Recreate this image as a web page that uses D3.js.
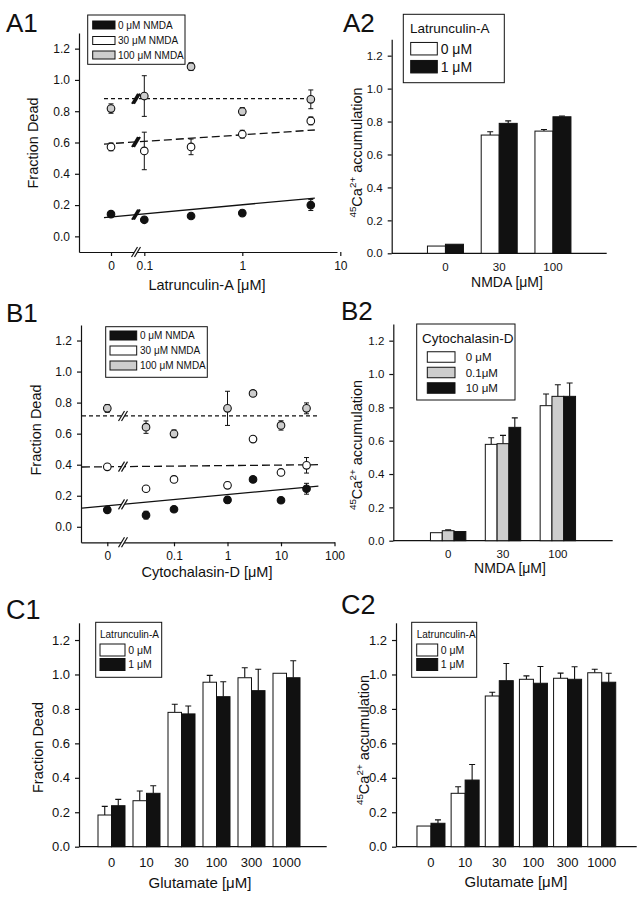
<!DOCTYPE html>
<html>
<head>
<meta charset="utf-8">
<script src="https://cdn.jsdelivr.net/npm/d3@7"></script>
<style>
  body { margin: 0; background: #fff; }
  svg { font-family: "Liberation Sans", Arial, sans-serif; }
</style>
</head>
<body>
<svg id="fig" width="643" height="899"></svg>
<script>
// ---- data ----
const yTicks = [0, 0.2, 0.4, 0.6, 0.8, 1.0, 1.2];
const nmdaNames = ["0 \u03bcM NMDA", "30 \u03bcM NMDA", "100 \u03bcM NMDA"];

// A1: fraction dead vs latrunculin-A
const latConc = [0, 0.1, 0.3, 1, 5];
const latDead0 = [0.142, 0.106, 0.13, 0.149, 0.20];
const latErr0 = [0.01, 0.01, 0.01, 0.01, 0.035];
const latDead30 = [0.572, 0.546, 0.572, 0.653, 0.738];
const latErr30 = [0.025, 0.12, 0.05, 0.025, 0.025];
const latDead100 = [0.817, 0.897, 1.085, 0.798, 0.876];
const latErr100 = [0.03, 0.13, 0.025, 0.025, 0.06];
const latFit0 = [0.12, 0.245];
const latFit30 = [0.59, 0.68];
const latFit100 = [0.88, 0.88];
const latTicks = [0, 0.1, 1, 10];

// B1: fraction dead vs cytochalasin-D
const cytConc = [0, 0.03, 0.1, 1, 3, 10, 30];
const cytDead0 = [0.109, 0.075, 0.113, 0.173, 0.305, 0.171, 0.245];
const cytErr0 = [0.01, 0.025, 0.01, 0.02, 0.01, 0.01, 0.035];
const cytDead30 = [0.386, 0.245, 0.305, 0.267, 0.565, 0.35, 0.396];
const cytErr30 = [0.01, 0.01, 0.02, 0.02, 0.01, 0.02, 0.05];
const cytDead100 = [0.763, 0.642, 0.599, 0.763, 0.859, 0.653, 0.763];
const cytErr100 = [0.025, 0.04, 0.025, 0.11, 0.015, 0.03, 0.035];
const cytFit0 = [0.12, 0.262];
const cytFit30 = [0.385, 0.40];
const cytFit100 = [0.714, 0.714];
const cytTicks = [0, 0.1, 1, 10, 100];

// A2: 45Ca accumulation, latrunculin-A
const nmdaCats = ["0", "30", "100"];
const a2Lat0 = [0.044, 0.718, 0.742];
const a2Lat0Err = [0, 0.02, 0.01];
const a2Lat1 = [0.055, 0.789, 0.829];
const a2Lat1Err = [0, 0.015, 0.005];

// B2: 45Ca accumulation, cytochalasin-D
const b2Cyt0 = [0.048, 0.578, 0.81];
const b2Cyt0Err = [0, 0.04, 0.07];
const b2Cyt01 = [0.06, 0.582, 0.866];
const b2Cyt01Err = [0.005, 0.05, 0.07];
const b2Cyt10 = [0.055, 0.68, 0.866];
const b2Cyt10Err = [0, 0.057, 0.08];

// C1 / C2: glutamate
const gluCats = ["0", "10", "30", "100", "300", "1000"];
const c1Lat0 = [0.184, 0.267, 0.78, 0.955, 0.981, 1.007];
const c1Lat0Err = [0.05, 0.056, 0.047, 0.04, 0.058, 0];
const c1Lat1 = [0.238, 0.31, 0.771, 0.871, 0.906, 0.981];
const c1Lat1Err = [0.037, 0.044, 0.046, 0.087, 0.124, 0.099];
const c2Lat0 = [0.12, 0.31, 0.875, 0.972, 0.978, 1.01];
const c2Lat0Err = [0, 0.038, 0.022, 0.02, 0.03, 0.02];
const c2Lat1 = [0.136, 0.387, 0.964, 0.949, 0.972, 0.955];
const c2Lat1Err = [0.02, 0.09, 0.1, 0.097, 0.073, 0.052];

const GRAY = "#cdcdcd";
const INK = "#111";
const svg = d3.select("#fig");

function panelLabel(txt, x, y, size) {
  svg.append("text").attr("x", x).attr("y", y).attr("font-size", size).attr("fill", INK).text(txt);
}

function yAxis(g, y, left, fs) {
  const ax = g.append("g")
    .attr("transform", `translate(${left},0)`)
    .call(d3.axisLeft(y).tickValues(yTicks).tickFormat(d3.format(".1f"))
      .tickSize(4).tickSizeOuter(0).tickPadding(5));
  ax.selectAll("text").attr("font-size", fs).attr("font-family", null).attr("fill", INK);
  ax.selectAll("line,path").attr("stroke", INK).attr("stroke-width", 1.2);
}

function yLabel(g, parts, x, y, fs) {
  const t = g.append("text").attr("transform", `translate(${x},${y}) rotate(-90)`)
    .attr("text-anchor", "middle").attr("fill", INK);
  let shift = 0;
  parts.forEach(p => {
    const dy = (p.sup ? -6 : 0) - shift;
    shift = p.sup ? -6 : 0;
    t.append("tspan").attr("dy", dy).attr("font-size", p.sup ? fs * 0.68 : fs).text(p.t);
  });
}

function legend(g, c, items) {
  g.append("rect").attr("x", c.x).attr("y", c.y).attr("width", c.w).attr("height", c.h)
    .attr("fill", "#fff").attr("stroke", INK).attr("stroke-width", 1);
  if (c.title) {
    g.append("text").attr("x", c.tx).attr("y", c.ty).attr("font-size", c.tfs).attr("fill", INK).text(c.title);
  }
  items.forEach((it, i) => {
    const cy = c.rows[i];
    g.append("rect").attr("x", c.sx).attr("y", cy - c.sh / 2).attr("width", c.sw).attr("height", c.sh)
      .attr("fill", it.fill).attr("stroke", INK).attr("stroke-width", 1);
    g.append("text").attr("x", c.lx).attr("y", cy + c.fs * 0.36).attr("font-size", c.fs)
      .attr("fill", INK).text(it.name);
  });
}

function slashes(g, x, y, heavy) {
  const dx = heavy ? 2.2 : 3, h = 5, s = 3;
  g.append("polygon")
    .attr("points", [[x - dx / 2 - s, y + h], [x - dx / 2 + s, y - h], [x + dx / 2 + s, y - h], [x + dx / 2 - s, y + h]].join(" "))
    .attr("fill", heavy ? INK : "#fff");
  [-dx / 2, dx / 2].forEach(o => {
    g.append("line").attr("x1", x + o - s).attr("y1", y + h).attr("x2", x + o + s).attr("y2", y - h)
      .attr("stroke", INK).attr("stroke-width", heavy ? 1.8 : 1.2);
  });
}

function scatterPanel(c) {
  const g = svg.append("g");
  const y = d3.scaleLinear().domain([-0.1, 1.3]).range([c.bottom, c.top]);
  const xl = d3.scaleLog().domain(c.logDomain).range(c.logRange);
  const xs = v => v === 0 ? c.zeroX : xl(v);
  xs.copy = () => xs;
  xs.range = () => [c.left, c.right];
  xs.domain = () => [0, c.logDomain[1]];

  yAxis(g, y, c.left, 12);
  const xa = g.append("g").attr("transform", `translate(0,${c.bottom})`)
    .call(d3.axisBottom(xs).tickValues(c.xTicks).tickFormat(d => String(d))
      .tickSize(4).tickSizeOuter(0).tickPadding(5));
  xa.selectAll("text").attr("font-size", 12).attr("font-family", null).attr("fill", INK);
  xa.selectAll("line,path").attr("stroke", INK).attr("stroke-width", 1.2);
  slashes(g, c.breakX, c.bottom, false);

  // fitted lines
  const line = d3.line().x(d => d[0]).y(d => y(d[1]));
  c.fits.forEach((f, i) => {
    const pts = [[c.lineX0, f[0]], [xl(c.lineEnd), f[1]]];
    g.append("path").attr("d", line(pts)).attr("fill", "none").attr("stroke", INK)
      .attr("stroke-width", 1.3).attr("stroke-dasharray", c.dashes[i]);
    const t = (c.breakX - pts[0][0]) / (pts[1][0] - pts[0][0]);
    slashes(g, c.breakX, y(f[0] + t * (f[1] - f[0])), c.heavy);
  });

  // error bars and points
  const fills = [INK, "#fff", GRAY];
  c.series.forEach((s, k) => {
    const pts = c.conc.map((v, i) => ({ x: xs(v), v: s.v[i], e: s.e[i] }));
    const eg = g.append("g").attr("stroke", INK).attr("stroke-width", 1);
    eg.selectAll(".ev").data(pts).join("line")
      .attr("x1", d => d.x).attr("x2", d => d.x).attr("y1", d => y(d.v - d.e)).attr("y2", d => y(d.v + d.e));
    [-1, 1].forEach(sg => {
      eg.selectAll(".cap" + sg).data(pts).join("line")
        .attr("x1", d => d.x - 2.5).attr("x2", d => d.x + 2.5)
        .attr("y1", d => y(d.v + sg * d.e)).attr("y2", d => y(d.v + sg * d.e));
    });
  });
  c.series.forEach((s, k) => {
    const pts = c.conc.map((v, i) => ({ x: xs(v), v: s.v[i] }));
    g.selectAll(".pt" + k).data(pts).join("circle")
      .attr("cx", d => d.x).attr("cy", d => y(d.v)).attr("r", 3.8)
      .attr("fill", fills[k]).attr("stroke", INK).attr("stroke-width", 1.1);
  });

  legend(g, c.leg, nmdaNames.map((n, i) => ({ name: n, fill: fills[i] })));

  yLabel(g, [{ t: "Fraction Dead" }], c.ylx, c.yly, 14.5);
  g.append("text").attr("x", c.xlx).attr("y", c.xly).attr("text-anchor", "middle")
    .attr("font-size", 14.5).attr("fill", INK).text(c.xlabel);
}

function barPanel(c) {
  const g = svg.append("g");
  const y = d3.scaleLinear().domain([0, 1.3]).range([c.bottom, c.top]);
  const x = d3.scaleBand().domain(c.cats).range(c.band).paddingInner(0).paddingOuter(c.pad);
  yAxis(g, y, c.left, c.tfs);

  g.append("line").attr("x1", c.left).attr("x2", c.right).attr("y1", c.bottom).attr("y2", c.bottom)
    .attr("stroke", INK).attr("stroke-width", 1.2);
  const xa = g.append("g").attr("transform", `translate(0,${c.bottom})`)
    .call(d3.axisBottom(x).tickSize(0).tickPadding(c.xpad));
  xa.select(".domain").remove();
  xa.selectAll("text").attr("font-size", c.tfs).attr("font-family", null).attr("fill", INK);

  const n = c.series.length;
  c.series.forEach((s, k) => {
    const data = c.cats.map((cat, i) => ({
      x: x(cat) + x.bandwidth() / 2 - n * c.bw / 2 + k * c.bw, v: s.v[i], e: s.e[i]
    }));
    g.selectAll(".eb" + k).data(data.filter(d => d.e > 0)).join("path")
      .attr("d", d => `M${d.x + c.bw / 2},${y(d.v)}V${y(d.v + d.e)}M${d.x + c.bw / 2 - 3},${y(d.v + d.e)}H${d.x + c.bw / 2 + 3}`)
      .attr("stroke", INK).attr("fill", "none").attr("stroke-width", 1.1);
    g.selectAll(".bar" + k).data(data).join("rect")
      .attr("x", d => d.x).attr("width", c.bw)
      .attr("y", d => y(d.v)).attr("height", d => y(0) - y(d.v))
      .attr("fill", s.fill).attr("stroke", INK).attr("stroke-width", 1);
  });

  legend(g, c.leg, c.series.map(s => ({ name: s.name, fill: s.fill })));
  yLabel(g, c.ylabel, c.ylx, c.yly, 14.5);
  g.append("text").attr("x", c.xlx).attr("y", c.xly).attr("text-anchor", "middle")
    .attr("font-size", c.xlfs).attr("fill", INK).text(c.xlabel);
}

const caLabel = [{ t: "45", sup: true }, { t: "Ca" }, { t: "2+", sup: true }, { t: " accumulation" }];

// ---- A1 ----
panelLabel("A1", 6, 32, 26);
scatterPanel({
  left: 79, right: 337, top: 33, bottom: 252,
  zeroX: 111, logDomain: [0.1, 10], logRange: [144.3, 340.3], xTicks: latTicks,
  breakX: 136, lineX0: 104, lineEnd: 5.5, heavy: true,
  conc: latConc,
  series: [{ v: latDead0, e: latErr0 }, { v: latDead30, e: latErr30 }, { v: latDead100, e: latErr100 }],
  fits: [latFit0, latFit30, latFit100], dashes: [null, "8,4", "4,3"],
  leg: { x: 87.7, y: 15, w: 97.3, h: 49.3, sx: 92.7, sw: 22.3, sh: 8, rows: [25, 40.5, 55], lx: 118, fs: 10 },
  ylx: 38, yly: 143, xlx: 207, xly: 290, xlabel: "Latrunculin-A [\u03bcM]"
});

// ---- A2 ----
panelLabel("A2", 343, 32, 26);
barPanel({
  left: 391.7, right: 606.7, top: 39.2, bottom: 253.3, band: [391.7, 606.7], pad: 0.5,
  cats: nmdaCats, bw: 18, tfs: 11.5, xpad: 10,
  series: [
    { name: "0 \u03bcM", fill: "#fff", v: a2Lat0, e: a2Lat0Err },
    { name: "1 \u03bcM", fill: INK, v: a2Lat1, e: a2Lat1Err }
  ],
  leg: { x: 403.3, y: 14.3, w: 101, h: 68.4, title: "Latrunculin-A", tx: 410, ty: 33, tfs: 13.5,
    sx: 410.7, sw: 26.6, sh: 12.5, rows: [48.7, 66.7], lx: 440.7, fs: 14 },
  ylabel: caLabel, ylx: 362, yly: 152.5,
  xlx: 507, xly: 287, xlabel: "NMDA [\u03bcM]", xlfs: 14
});

// ---- B1 ----
panelLabel("B1", 6, 321.7, 26);
scatterPanel({
  left: 81, right: 334.5, top: 325, bottom: 542.3,
  zeroX: 107.3, logDomain: [0.1, 100], logRange: [174, 334.5], xTicks: cytTicks,
  breakX: 123, lineX0: 82, lineEnd: 50, heavy: false,
  conc: cytConc,
  series: [{ v: cytDead0, e: cytErr0 }, { v: cytDead30, e: cytErr30 }, { v: cytDead100, e: cytErr100 }],
  fits: [cytFit0, cytFit30, cytFit100], dashes: [null, "8,4", "4,3"],
  leg: { x: 105.7, y: 326.7, w: 101.6, h: 50.6, sx: 110, sw: 26.7, sh: 9, rows: [335.5, 350.5, 365.5], lx: 140, fs: 10 },
  ylx: 41, yly: 430, xlx: 207, xly: 576.7, xlabel: "Cytochalasin-D [\u03bcM]"
});

// ---- B2 ----
panelLabel("B2", 341, 320, 26);
barPanel({
  left: 393.3, right: 612.7, top: 324, bottom: 540.7, band: [393.3, 612.7], pad: 0.5,
  cats: nmdaCats, bw: 11.8, tfs: 11.5, xpad: 9,
  series: [
    { name: "0 \u03bcM", fill: "#fff", v: b2Cyt0, e: b2Cyt0Err },
    { name: "0.1\u03bcM", fill: GRAY, v: b2Cyt01, e: b2Cyt01Err },
    { name: "10 \u03bcM", fill: INK, v: b2Cyt10, e: b2Cyt10Err }
  ],
  leg: { x: 416.7, y: 324, w: 98.3, h: 76, title: "Cytochalasin-D", tx: 422, ty: 343, tfs: 13.5,
    sx: 427.3, sw: 27.7, sh: 10.5, rows: [357, 372.5, 388], lx: 465.7, fs: 11.5 },
  ylabel: caLabel, ylx: 362, yly: 445,
  xlx: 510, xly: 573, xlabel: "NMDA [\u03bcM]", xlfs: 14
});

// ---- C1 ----
panelLabel("C1", 6, 619, 27);
barPanel({
  left: 79, right: 326.7, top: 622.8, bottom: 846.7, band: [94, 304], pad: 0,
  cats: gluCats, bw: 13.5, tfs: 13, xpad: 11,
  series: [
    { name: "0 \u03bcM", fill: "#fff", v: c1Lat0, e: c1Lat0Err },
    { name: "1 \u03bcM", fill: INK, v: c1Lat1, e: c1Lat1Err }
  ],
  leg: { x: 95.7, y: 622.3, w: 66, h: 55, title: "Latrunculin-A", tx: 100, ty: 637.7, tfs: 10,
    sx: 100, sw: 25, sh: 12, rows: [650, 664.5], lx: 128.3, fs: 10.5 },
  ylabel: [{ t: "Fraction Dead" }], ylx: 43, yly: 747.5,
  xlx: 200, xly: 887.7, xlabel: "Glutamate [\u03bcM]", xlfs: 15
});

// ---- C2 ----
panelLabel("C2", 341, 614, 27);
barPanel({
  left: 396, right: 636.7, top: 622.8, bottom: 846.7, band: [413.9, 618.8], pad: 0,
  cats: gluCats, bw: 14, tfs: 13, xpad: 11,
  series: [
    { name: "0 \u03bcM", fill: "#fff", v: c2Lat0, e: c2Lat0Err },
    { name: "1 \u03bcM", fill: INK, v: c2Lat1, e: c2Lat1Err }
  ],
  leg: { x: 411.7, y: 622.3, w: 65, h: 55, title: "Latrunculin-A", tx: 416.7, ty: 637.7, tfs: 10,
    sx: 416.7, sw: 21, sh: 12, rows: [650, 664.5], lx: 440.7, fs: 10.5 },
  ylabel: caLabel, ylx: 369, yly: 740,
  xlx: 516, xly: 886.7, xlabel: "Glutamate [\u03bcM]", xlfs: 15
});
</script>
</body>
</html>
